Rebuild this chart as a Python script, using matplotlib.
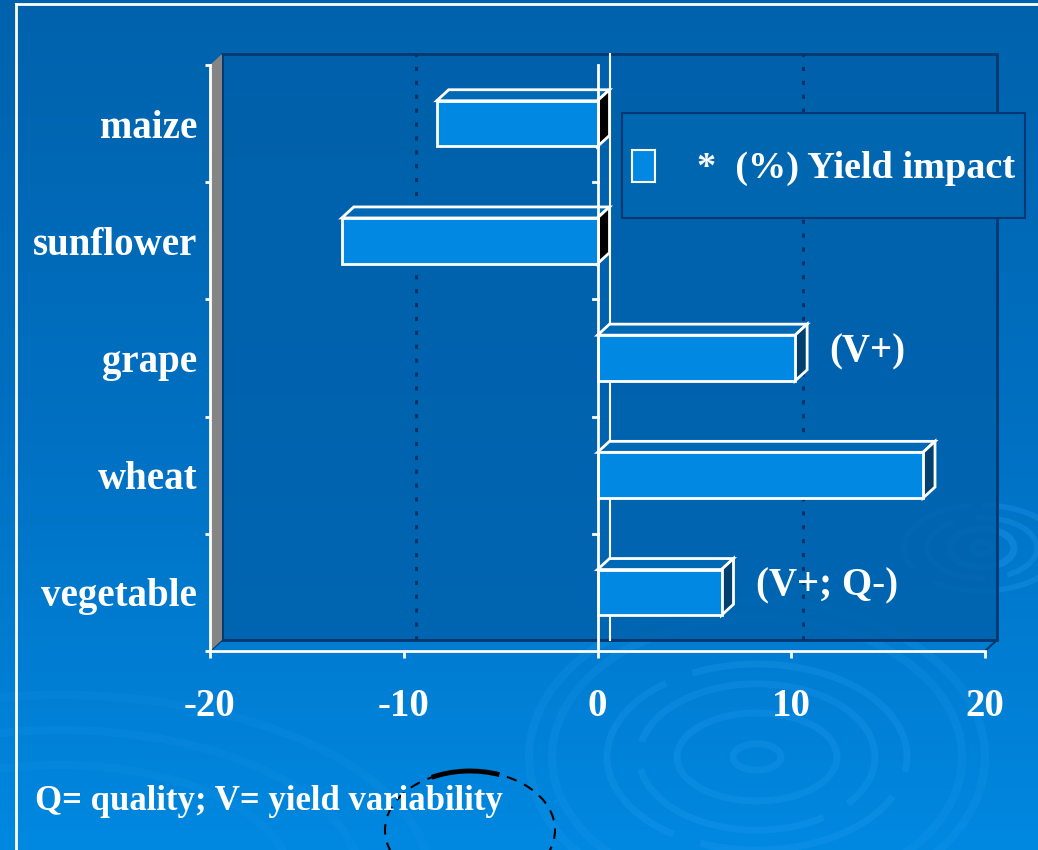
import matplotlib
matplotlib.use("Agg")
import matplotlib.pyplot as plt
import numpy as np
from matplotlib.patches import Polygon, Rectangle, Ellipse, Arc
from matplotlib.colors import LinearSegmentedColormap

# data
crops = ["maize", "sunflower", "grape", "wheat", "vegetable"]
impact = [-8.3, -13.2, 10.2, 16.8, 6.4]
notes = {"grape": "(V+)", "vegetable": "(V+; Q-)"}
xticks = [-20, -10, 0, 10, 20]
series_name = "*  (%) Yield impact"
footnote = "Q= quality; V= yield variability"

# colours
BAR = "#0088e3"
BAR_TOP = "#0069b6"
SIDE_NEG = "black"
SIDE_POS = "#003f6e"
WALL = "#0060aa"
EDGE = "#06386f"
LEFT_WALL = "#858585"

W, H = 1038, 850
plt.rcParams["font.family"] = ["Liberation Serif", "DejaVu Serif"]
plt.rcParams["font.weight"] = "bold"
plt.rcParams["axes.unicode_minus"] = False

fig = plt.figure(figsize=(W / 100, H / 100), dpi=100)

# slide background with ripples
bg = fig.add_axes([0, 0, 1, 1])
bg.set_xlim(0, W)
bg.set_ylim(H, 0)
bg.axis("off")
grad = np.linspace(0, 1, 256).reshape(-1, 1)
cmap = LinearSegmentedColormap.from_list("slide", ["#0062ac", "#0070c2", "#0088e0"])
bg.imshow(grad, cmap=cmap, extent=(0, W, H, 0), aspect="auto")


def ripple(cx, cy, radii, ratio, lw=4.0, alpha=0.35, ls="-"):
    for r in radii:
        bg.add_patch(Ellipse((cx, cy), 2 * r, 2 * r * ratio, fill=False,
                             ec="#2aa2f7", lw=lw, alpha=alpha, ls=ls))


ripple(757, 757, [24, 80], 0.55, lw=5, alpha=0.22)
ripple(757, 757, [118, 150], 0.62, lw=5, alpha=0.22, ls=(0, (30, 4)))
ripple(757, 757, [205, 228], 0.68, lw=6, alpha=0.16)
ripple(982, 548, [10, 32], 0.6, lw=5, alpha=0.3)
ripple(982, 548, [55, 78], 0.55, lw=4, alpha=0.25, ls=(0, (20, 4)))
ripple(60, 880, [230, 300, 370], 0.5, lw=6, alpha=0.1)

# chart in front-plane coordinates
L, R, T, B = 210, 985, 65, 651
ax = fig.add_axes([L / W, 1 - B / H, (R - L) / W, (B - T) / H])
ax.set_facecolor("none")
ax.set_xlim(xticks[0], xticks[-1])
ax.set_ylim(-0.5, len(crops) - 0.5)
x0, x1 = ax.get_xlim()
y0, y1 = ax.get_ylim()
dx = 12 * (x1 - x0) / (R - L)
dy = 11 * (y1 - y0) / (B - T)
ypos = np.arange(len(crops))[::-1]

# back wall, floor and left wall
ax.add_patch(Polygon([(x0 + dx, y0 + dy), (x1 + dx, y0 + dy), (x1 + dx, y1 + dy), (x0 + dx, y1 + dy)],
                     closed=True, fc=WALL, alpha=0.8, ec="none", clip_on=False, zorder=0.5))
ax.add_patch(Polygon([(x0 + dx, y0 + dy), (x1 + dx, y0 + dy), (x1 + dx, y1 + dy), (x0 + dx, y1 + dy)],
                     closed=True, fc="none", ec=EDGE, lw=2, clip_on=False, zorder=0.55))
ax.add_patch(Polygon([(x0, y0), (x1, y0), (x1 + dx, y0 + dy), (x0 + dx, y0 + dy)],
                     closed=True, fc="none", ec=EDGE, lw=1.5, clip_on=False, zorder=0.6))
ax.add_patch(Polygon([(x0, y0), (x0, y1), (x0 + dx, y1 + dy), (x0 + dx, y0 + dy)],
                     closed=True, fc=LEFT_WALL, ec="none", clip_on=False, zorder=0.7))

for t in xticks[1:-1]:
    if t == 0:
        ax.plot([dx, dx], [y0 + dy, y1 + dy], color="white", lw=1.5, clip_on=False, zorder=0.8)
    else:
        ax.plot([t + dx, t + dx], [y0 + dy, y1 + dy], color="#0a2f5c", lw=2,
                ls=(0, (1.5, 3.5)), clip_on=False, zorder=0.8)

# bars with top and end faces
h = 0.39
ax.barh(ypos, impact, height=h, color=BAR, edgecolor="white", linewidth=2, zorder=2)
for y, v in zip(ypos, impact):
    lo, hi = min(v, 0), max(v, 0)
    top, bot = y + h / 2, y - h / 2
    ax.add_patch(Polygon([(lo, top), (hi, top), (hi + dx, top + dy), (lo + dx, top + dy)],
                         closed=True, fc=BAR_TOP, ec="white", lw=2, clip_on=False, zorder=1.8))
    side = SIDE_NEG if v < 0 else SIDE_POS
    ax.add_patch(Polygon([(hi, bot), (hi, top), (hi + dx, top + dy), (hi + dx, bot + dy)],
                         closed=True, fc=side, ec="white", lw=2, clip_on=False, zorder=1.8))

# category axis at zero
tk = 5 * (x1 - x0) / (R - L)
ax.plot([0, 0], [y0, y1], color="white", lw=2, zorder=3, clip_on=False)
for b in np.arange(y0 + 1, y1, 1):
    ax.plot([-tk, 0], [b, b], color="white", lw=2, zorder=3)

for c, y, v in zip(crops, ypos, impact):
    if c in notes:
        ax.annotate(notes[c], (v, y), xytext=(34, 6), textcoords="offset pixels",
                    ha="left", va="center", color="white", fontsize=28, fontweight="bold")

for s in ("top", "right"):
    ax.spines[s].set_visible(False)
for s in ("bottom", "left"):
    ax.spines[s].set_color("white")
    ax.spines[s].set_linewidth(2)
    ax.spines[s].set_zorder(3)

ax.set_xticks(xticks)
ax.set_xticklabels([str(t) for t in xticks])
ax.tick_params(axis="x", colors="white", length=5, width=2, pad=22, labelsize=28)
ax.set_yticks(ypos)
ax.set_yticklabels(crops)
ax.set_yticks(np.arange(y0, y1 + 0.5, 1), minor=True)
ax.tick_params(axis="y", which="major", length=0, pad=9.4, labelsize=28, colors="white")
ax.tick_params(axis="y", which="minor", length=3.6, width=2, color="white")

# overlay: legend, footnote, frame
ov = fig.add_axes([0, 0, 1, 1], zorder=5)
ov.set_xlim(0, W)
ov.set_ylim(H, 0)
ov.axis("off")
ov.add_patch(Rectangle((622, 113), 403, 105, fc="#0066b0", ec=EDGE, lw=1.5))
ov.add_patch(Rectangle((632, 150), 23, 32, fc=BAR, ec="white", lw=1.5))
ov.text(697, 168, series_name, color="white", fontsize=27.5, fontweight="bold", va="center", ha="left")
ov.text(35, 810, footnote, color="white", fontsize=25, fontweight="bold", va="baseline", ha="left")

ov.plot([16, 16], [H, 4], color="white", lw=2)
ov.plot([16, W], [4, 4], color="white", lw=2)
ov.add_patch(Ellipse((470, 830), 170, 118, fill=False, ec="black", lw=1.5, ls=(0, (5, 4))))
ov.add_patch(Arc((470, 830), 170, 118, theta1=234, theta2=298, ec="black", lw=3.5))

fig.savefig("out.png", dpi=100)
